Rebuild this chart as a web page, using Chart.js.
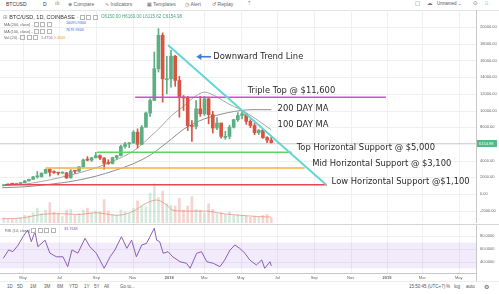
<!DOCTYPE html>
<html>
<head>
<meta charset="utf-8">
<title>BTC/USD, 1D, COINBASE</title>
<script src="https://cdn.jsdelivr.net/npm/chart.js@4.4.1/dist/chart.umd.min.js"></script>
<style>
  html, body { margin:0; padding:0; background:#fff; }
  body { width:499px; height:294px; position:relative; overflow:hidden;
         font-family:"Liberation Sans", Arial, sans-serif; color:#555; }
  .t { position:absolute; white-space:nowrap; line-height:1; }
  .g { font-family:"DejaVu Sans", sans-serif; }
  .rule { position:absolute; left:0; width:499px; height:1px; }
  .bx { display:inline-block; width:3px; height:3px; border:0.6px solid #b5b5b5; margin-right:1.5px; vertical-align:middle; }
  #pricePane { position:absolute; left:0; top:10px; }
  #rsiPane { position:absolute; left:0; top:225px; }
</style>
</head>
<body>

<!-- top toolbar -->
<div class="t" style="left:6px;top:1.5px;font-size:5px;color:#333">BTCUSD</div>
<div class="t" style="left:43px;top:1.5px;font-size:5px;color:#333">D</div>
<div class="t g" style="left:55px;top:1px;font-size:5.5px;color:#777">ılı</div>
<div class="t" style="left:68px;top:1.5px;font-size:5px;color:#666"><span class="g">⊕</span> Compare</div>
<div class="t" style="left:105px;top:1.5px;font-size:5px;color:#666"><span class="g">∿</span> Indicators</div>
<div class="t" style="left:147px;top:1.5px;font-size:5px;color:#666"><span class="g">▦</span> Templates</div>
<div class="t" style="left:185px;top:1.5px;font-size:5px;color:#666"><span class="g">◷</span> Alert</div>
<div class="t" style="left:212px;top:1.5px;font-size:5px;color:#666"><span class="g">↺</span> Replay</div>
<div class="t g" style="left:247px;top:1px;font-size:5.5px;color:#888">⇡</div>
<div class="t g" style="left:415px;top:1px;font-size:5.5px;color:#777">□</div>
<div class="t g" style="left:427px;top:1px;font-size:5.5px;color:#777">☁</div>
<div class="t" style="left:437px;top:1.5px;font-size:4.5px;color:#555">Unnamed <span class="g">⌄</span></div>
<div class="t g" style="left:473px;top:1px;font-size:5.5px;color:#777">⊙</div>
<div class="t g" style="left:485px;top:1px;font-size:5.5px;color:#777">⁝⁝</div>
<div class="rule" style="top:10px;background:#e4e4e4"></div>

<!-- price pane -->
<div id="pricePane"><canvas id="price" width="499" height="213"></canvas></div>

<!-- symbol header and indicator legend -->
<div class="t" style="left:3px;top:14.5px;font-size:5.5px;color:#333"><span class="g" style="color:#999">⊞</span> BTC/USD, 1D, COINBASE <span style="color:#999">-</span> <span class="bx"></span><span class="bx"></span><span class="bx"></span></div>
<div class="t" id="ohlc" style="left:101px;top:15px;font-size:4.5px;color:#4aa37a"></div>
<div class="t" style="left:4px;top:22px;font-size:3.8px;color:#666">MA (200, close) <span style="color:#999">-</span> <span class="bx"></span><span class="bx"></span><span class="bx"></span></div>
<div class="t" id="ma200Val" style="left:66px;top:22px;font-size:3.8px;color:#3e6fd8"></div>
<div class="t" style="left:4px;top:28.7px;font-size:3.8px;color:#666">MA (100, close) <span style="color:#999">-</span> <span class="bx"></span><span class="bx"></span><span class="bx"></span></div>
<div class="t" id="ma100Val" style="left:66px;top:28.7px;font-size:3.8px;color:#3e6fd8"></div>
<div class="t" style="left:4px;top:35.3px;font-size:3.8px;color:#666">Vol (20) <span style="color:#999">-</span> <span class="bx"></span><span class="bx"></span><span class="bx"></span> <span style="color:#8e5cb8">1.4756</span> <span style="color:#f0a030">0.4006</span></div>

<div class="rule" style="top:224px;background:#d6d6d6"></div>

<!-- RSI pane -->
<div id="rsiPane"><canvas id="rsi" width="499" height="56"></canvas></div>
<div class="t" style="left:5px;top:227.5px;font-size:3.8px;color:#666">RSI (14, close) <span class="bx"></span><span class="bx"></span><span class="bx"></span><span class="bx"></span></div>
<div class="t" id="rsiVal" style="left:64px;top:227.5px;font-size:3.8px;color:#8e5cb8"></div>

<!-- bottom toolbar -->
<div class="rule" style="top:281px;background:#ececec"></div>
<div class="t" style="left:7px;top:284.5px;font-size:4.5px;color:#555">1D</div>
<div class="t" style="left:17px;top:284.5px;font-size:4.5px;color:#555">5D</div>
<div class="t" style="left:30px;top:284.5px;font-size:4.5px;color:#555">1M</div>
<div class="t" style="left:44px;top:284.5px;font-size:4.5px;color:#555">3M</div>
<div class="t" style="left:57px;top:284.5px;font-size:4.5px;color:#555">6M</div>
<div class="t" style="left:69px;top:284.5px;font-size:4.5px;color:#555">YTD</div>
<div class="t" style="left:84px;top:284.5px;font-size:4.5px;color:#555">1Y</div>
<div class="t" style="left:94px;top:284.5px;font-size:4.5px;color:#555">5Y</div>
<div class="t" style="left:104px;top:284.5px;font-size:4.5px;color:#555">All</div>
<div class="t" style="left:120px;top:284.5px;font-size:4.5px;color:#555">Go to...</div>
<div class="t" style="left:409px;top:284.5px;font-size:4.5px;color:#555">15:50:45 (UTC+7)</div>
<div class="t" style="left:446px;top:284.5px;font-size:4.5px;color:#555">%</div>
<div class="t" style="left:454px;top:284.5px;font-size:4.5px;color:#555">log</div>
<div class="t" style="left:466px;top:284.5px;font-size:4.5px;color:#555">auto</div>
<div class="t g" style="left:484px;top:283.5px;font-size:6px;color:#555">⚙</div>

<script>
// ---- weekly BTC/USD candles (week start dates) ----
const weeks = ['2017-03-27','2017-04-03','2017-04-10','2017-04-17','2017-04-24','2017-05-01','2017-05-08','2017-05-15','2017-05-22','2017-05-29',
  '2017-06-05','2017-06-12','2017-06-19','2017-06-26','2017-07-03','2017-07-10','2017-07-17','2017-07-24','2017-07-31','2017-08-07',
  '2017-08-14','2017-08-21','2017-08-28','2017-09-04','2017-09-11','2017-09-18','2017-09-25','2017-10-02','2017-10-09','2017-10-16',
  '2017-10-23','2017-10-30','2017-11-06','2017-11-13','2017-11-20','2017-11-27','2017-12-04','2017-12-11','2017-12-18','2017-12-25',
  '2018-01-01','2018-01-08','2018-01-15','2018-01-22','2018-01-29','2018-02-05','2018-02-12','2018-02-19','2018-02-26','2018-03-05',
  '2018-03-12','2018-03-19','2018-03-26','2018-04-02','2018-04-09','2018-04-16','2018-04-23','2018-04-30','2018-05-07','2018-05-14',
  '2018-05-21','2018-05-28','2018-06-04','2018-06-11','2018-06-18'];
const firstOpen = 1000;
const closes = [1080,1180,1170,1250,1350, 1560,1760,2050,2060,2500, 2950,2600,2570,2500,2520, 1930,2750,2730,3250,4080,
  4050,4350,4600,4300,3680, 3650,4350,4600,5700,6000, 6100,7400,5950,8000,9700, 11200,15000,19000,13800,13800,
  16500,13600,11600,11500,8200, 8100,10200,9600,11400,9500, 7900,8500,6900,6900,8000, 8900,9400,9600,8700,8200,
  7350,7650,6750,6450,6154.98];
const highs = [1110,1210,1200,1260,1360, 1620,1780,2120,2700,2530, 2980,3000,2780,2600,2660, 2600,2930,2800,3280,4200,
  4480,4400,4980,4700,4350, 4100,4410,4620,5860,6200, 6180,7600,7800,8200,9800, 11400,17000,19800,19300,16500,
  17200,16600,14100,11800,11700, 8800,11200,11700,11700,11600, 9900,9150,8500,7500,8250, 8950,9750,9990,9650,8900,
  8500,7700,7750,6880,6830];
const lows = [960,1060,1150,1160,1240, 1340,1560,1740,1900,2050, 2460,2150,2460,2290,2480, 1850,1900,2450,2660,3220,
  3960,3900,4300,4100,2980, 3550,3600,4150,4550,5500, 5550,6100,5500,5900,8000, 9300,11200,14600,11000,12000,
  12800,12900,9200,10000,7600, 6300,7800,9300,9400,8400, 7300,7700,6700,6550,6600, 7900,8700,9000,8350,7950,
  7100,7100,6650,6150,6100];
const volumes = [12,10,9,10,13,18,17,24,35,22, 30,48,25,22,16,30,32,18,22,30, 35,24,28,26,55,28,20,18,30,26,
  22,35,52,40,38,70,92,60,75,45, 42,40,58,30,40,62,32,30,24,45, 32,22,24,20,26,18,20,18,16,14, 16,14,18,20,12];

// last daily bar shown in the header
const lastDayOHLC = [6150.00, 6160.00, 6115.62, 6154.98];

// ---- moving averages ----
const maDates = ['2017-03-27','2017-05-01','2017-06-01','2017-07-01','2017-08-01','2017-09-01','2017-10-01','2017-11-01','2017-12-01','2017-12-20',
  '2018-01-05','2018-01-24','2018-02-10','2018-03-01','2018-03-20','2018-04-10','2018-05-01','2018-05-20','2018-06-21'];
const ma100 = [1000,1150,1500,1950,2500,3150,4000,5100,6900,8200, 9400,10450,11500,12200,11700,10800,10100,9300,7679.93];
const ma200 = [750,850,1050,1300,1650,2150,2800,3600,4700,5700, 6600,7700,8400,9000,9400,9750,10000,10100,10095.93];

// volume moving average
const volMaDates = ['2017-03-27','2017-05-01','2017-05-31','2017-07-01','2017-08-01','2017-09-01','2017-10-05','2017-11-01','2017-11-24',
  '2017-12-11','2017-12-28','2018-01-07','2018-02-01','2018-03-03','2018-04-01','2018-05-01','2018-05-31','2018-06-21'];
const volMa = [10,12,20,22,20,24,18,27,47, 54,42,30,28,28,22,18,15,14];

// ---- RSI (14) ----
const rsiDates = ['2017-03-29','2017-04-07','2017-04-14','2017-04-23','2017-05-01','2017-05-09','2017-05-15','2017-05-21','2017-05-26','2017-06-07',
  '2017-06-15','2017-06-26','2017-07-07','2017-07-15','2017-07-22','2017-08-01','2017-08-13','2017-08-21','2017-09-01','2017-09-14',
  '2017-09-24','2017-10-02','2017-10-13','2017-10-22','2017-10-30','2017-11-07','2017-11-16','2017-11-24','2017-12-07','2017-12-11',
  '2017-12-16','2017-12-22','2017-12-30','2018-01-07','2018-01-19','2018-01-30','2018-02-05','2018-02-16','2018-02-24','2018-03-05',
  '2018-03-16','2018-03-27','2018-04-04','2018-04-13','2018-04-21','2018-04-29','2018-05-08','2018-05-16','2018-05-27','2018-06-05',
  '2018-06-10','2018-06-19','2018-06-21'];
const rsiValues = [45.6,58.6,56,66.4,79.4,89.8,71.6,87,63.8,74, 53.8,48,48,32.5,58.6,53.8,76.9,63.8,53.4,30,
  48,58.6,79.4,61.2,74,48,66.4,69,92.5,74, 71.6,53.4,56,48,40.3,37.8,30,53.4,56,40.3,
  37.8,32.5,43,58.6,66.4,61.2,53.4,43,35.2,43, 30,40.3,33.7648];

// ---- drawn support / resistance levels ----
const levelValues = [11600, 5000, 3100, 1100];
const levelStarts = ['2017-11-05','2017-09-02','2017-06-08','2017-04-01'];
const levelEnds   = ['2018-12-30','2018-07-25','2018-08-16','2018-09-22'];
const levelColors = ['#dd44dd','#5fd35f','#f2b13c','#e04a56'];
const trendDates  = ['2017-12-30','2018-09-21'];
const trendValues = [17850, 1100];

// ---- axis ticks ----
const monthDates  = ['2017-05-01','2017-07-01','2017-09-01','2017-11-01','2018-01-01','2018-03-01','2018-05-01',
  '2018-07-01','2018-09-01','2018-11-01','2019-01-01','2019-03-01','2019-05-01'];
const monthLabels = ['May','Jul','Sep','Nov','2018','Mar','May','Jul','Sep','Nov','2019','Mar','May'];
const priceTicks  = [-2000,0,2000,4000,6000,8000,10000,12000,14000,16000,18000,20000];
const rsiTicks    = [40,60,80];

// ---- helpers ----
const DAY0 = Date.UTC(2017, 4, 1);
const dayOf = s => (Date.parse(s + 'T00:00:00Z') - DAY0) / 864e5;
const X_MIN = -38.5, X_MAX = 759;
const UP = '#5cae83', DOWN = '#d75442';
const UP_V = 'rgba(92,174,131,0.26)', DOWN_V = 'rgba(215,84,66,0.26)';
const FONT = '"Liberation Sans", Arial, sans-serif';
const GRID = '#f0f0f0', AXIS = '#c8c8c8', LABEL = '#666';

const opens = closes.map((c, i) => i ? closes[i - 1] : firstOpen);
const candleX = weeks.map(d => dayOf(d) + 3);
const candleColors = closes.map((c, i) => c >= opens[i] ? UP : DOWN);
const volColors = closes.map((c, i) => c >= opens[i] ? UP_V : DOWN_V);
const monthTicks = monthDates.map(dayOf);

document.getElementById('ohlc').textContent =
  'O' + lastDayOHLC[0].toFixed(2) + ' H' + lastDayOHLC[1].toFixed(2) + ' L' + lastDayOHLC[2].toFixed(2) + ' C' + lastDayOHLC[3].toFixed(2);
document.getElementById('ma200Val').textContent = ma200[ma200.length - 1].toFixed(4);
document.getElementById('ma100Val').textContent = ma100[ma100.length - 1].toFixed(4);
document.getElementById('rsiVal').textContent = rsiValues[rsiValues.length - 1].toFixed(4);

const pts = (dates, vals) => dates.map((d, i) => ({ x: dayOf(d), y: vals[i] }));
const lineDs = (data, color, width, order, extra) => Object.assign({
  type: 'line', data, borderColor: color, borderWidth: width, pointRadius: 0, fill: false, order
}, extra || {});

// grid lines, axis border and tick labels, drawn against the chart's own scales
function paneAxes(yTicks, fmt, withTimeLabels) {
  return {
    id: 'paneAxes',
    beforeDatasetsDraw(chart) {
      const { ctx, chartArea: a, scales: { x, y } } = chart;
      ctx.save();
      ctx.strokeStyle = GRID; ctx.lineWidth = 1;
      monthTicks.forEach(v => {
        const px = Math.round(x.getPixelForValue(v)) + 0.5;
        ctx.beginPath(); ctx.moveTo(px, a.top); ctx.lineTo(px, a.bottom); ctx.stroke();
      });
      yTicks.forEach(v => {
        const py = Math.round(y.getPixelForValue(v)) + 0.5;
        ctx.beginPath(); ctx.moveTo(a.left, py); ctx.lineTo(a.right, py); ctx.stroke();
      });
      ctx.restore();
    },
    afterDraw(chart) {
      const { ctx, chartArea: a, scales: { x, y } } = chart;
      ctx.save();
      ctx.strokeStyle = AXIS; ctx.lineWidth = 1;
      ctx.beginPath(); ctx.moveTo(a.right + 0.5, 0); ctx.lineTo(a.right + 0.5, chart.height); ctx.stroke();
      ctx.font = '4px ' + FONT; ctx.fillStyle = LABEL;
      ctx.textAlign = 'left'; ctx.textBaseline = 'middle';
      yTicks.forEach(v => ctx.fillText(fmt(v), a.right + 4, y.getPixelForValue(v)));
      if (withTimeLabels) {
        ctx.beginPath(); ctx.moveTo(a.left, a.bottom + 0.5); ctx.lineTo(a.right, a.bottom + 0.5); ctx.stroke();
        ctx.textAlign = 'center';
        monthTicks.forEach((v, i) => {
          ctx.font = (/^\d{4}$/.test(monthLabels[i]) ? 'bold ' : '') + '4px ' + FONT;
          ctx.fillText(monthLabels[i], x.getPixelForValue(v), a.bottom + 4.5);
        });
      }
      ctx.restore();
    }
  };
}

// chart annotations (text placed in data coordinates)
const notes = [
  { text: 'Downward Trend Line',             day: 318.8, value: 16440 },
  { text: 'Triple Top @ $11,600',            day: 376.4, value: 12335 },
  { text: '200 DAY MA',                      day: 426.6, value: 10144 },
  { text: '100 DAY MA',                      day: 426.6, value: 8263 },
  { text: 'Top Horizontal Support @ $5,000', day: 458.5, value: 5473 },
  { text: 'Mid Horizontal Support @ $3,100', day: 484.6, value: 3593 },
  { text: 'Low Horizontal Support @$1,100',  day: 517.1, value: 1473 }
];
const arrowSpan = { fromDay: 315, toDay: 290.5, value: 16440 };

const priceOverlay = {
  id: 'priceOverlay',
  afterDatasetsDraw(chart) {
    const { ctx, chartArea: a, scales: { x, y } } = chart;
    const last = lastDayOHLC[3];
    const py = Math.round(y.getPixelForValue(last)) + 0.5;
    ctx.save();
    ctx.strokeStyle = 'rgba(140,140,140,0.35)';
    ctx.lineWidth = 1;
    ctx.beginPath(); ctx.moveTo(a.left, py); ctx.lineTo(a.right, py); ctx.stroke();
    ctx.font = '8.4px "DejaVu Sans", sans-serif';
    ctx.fillStyle = '#2a2a2a';
    ctx.textAlign = 'left';
    ctx.textBaseline = 'middle';
    notes.forEach(n => ctx.fillText(n.text, x.getPixelForValue(n.day), y.getPixelForValue(n.value)));
    const ax1 = x.getPixelForValue(arrowSpan.fromDay), ax2 = x.getPixelForValue(arrowSpan.toDay);
    const ay = y.getPixelForValue(arrowSpan.value);
    ctx.strokeStyle = '#3d7bd4'; ctx.fillStyle = '#3d7bd4'; ctx.lineWidth = 1.6;
    ctx.beginPath(); ctx.moveTo(ax1, ay); ctx.lineTo(ax2 + 3, ay); ctx.stroke();
    ctx.beginPath(); ctx.moveTo(ax2, ay); ctx.lineTo(ax2 + 5, ay - 3.2); ctx.lineTo(ax2 + 5, ay + 3.2); ctx.closePath(); ctx.fill();
    ctx.restore();
  },
  afterDraw(chart) {
    const { ctx, chartArea: a, scales: { y } } = chart;
    const last = lastDayOHLC[3];
    const py = Math.round(y.getPixelForValue(last)) + 0.5;
    ctx.save();
    ctx.fillStyle = '#53b987';
    ctx.fillRect(a.right + 1, py - 3.5, 20, 7);
    ctx.fillStyle = '#fff';
    ctx.font = '4px ' + FONT;
    ctx.textBaseline = 'middle';
    ctx.fillText(last.toFixed(2), a.right + 3, py);
    ctx.restore();
  }
};

const datasets = [
  { type: 'bar', yAxisID: 'yv', order: 10, grouped: false, barThickness: 2,
    data: volumes.map((v, i) => ({ x: candleX[i], y: v })), backgroundColor: volColors },
  lineDs(pts(volMaDates, volMa), 'rgba(232,120,90,0.6)', 1, 9, { yAxisID: 'yv', cubicInterpolationMode: 'monotone' }),
  lineDs(pts(maDates, ma200), '#8e8e8e', 1, 6, { cubicInterpolationMode: 'monotone' }),
  lineDs(pts(maDates, ma100), '#a6a6a6', 1, 6, { cubicInterpolationMode: 'monotone' }),
  { type: 'bar', order: 5, grouped: false, barThickness: 1,
    data: lows.map((l, i) => ({ x: candleX[i], y: [l, highs[i]] })), backgroundColor: candleColors },
  { type: 'bar', order: 4, grouped: false, barThickness: 3, minBarLength: 1,
    data: closes.map((c, i) => ({ x: candleX[i], y: [opens[i], c] })), backgroundColor: candleColors }
];
levelValues.forEach((v, i) => {
  datasets.push(lineDs([{ x: dayOf(levelStarts[i]), y: v }, { x: dayOf(levelEnds[i]), y: v }], levelColors[i], 1.5, 2));
});
datasets.push(lineDs(pts(trendDates, trendValues), '#62d6d8', 2, 1));

const hidden = { display: false };

new Chart(document.getElementById('price'), {
  type: 'bar',
  data: { datasets },
  options: {
    responsive: false, animation: false, events: [],
    layout: { padding: { left: 0, top: 0, bottom: 0, right: 23 } },
    plugins: { legend: hidden, tooltip: { enabled: false } },
    scales: {
      x: { type: 'linear', min: X_MIN, max: X_MAX, offset: false, display: false },
      y: { min: -3473, max: 22036, display: false },
      yv: { min: 0, max: 500, display: false }
    }
  },
  plugins: [paneAxes(priceTicks, v => v.toFixed(2), false), priceOverlay]
});

const rsiBand = {
  id: 'rsiBand',
  beforeDatasetsDraw(chart) {
    const { ctx, chartArea: a, scales: { y } } = chart;
    const t = y.getPixelForValue(70), b = y.getPixelForValue(30);
    ctx.save();
    ctx.fillStyle = 'rgba(160,110,225,0.14)';
    ctx.fillRect(a.left, t, a.right - a.left, b - t);
    ctx.restore();
  }
};

new Chart(document.getElementById('rsi'), {
  type: 'line',
  data: { datasets: [ lineDs(pts(rsiDates, rsiValues), '#8d5cb8', 1, 1) ] },
  options: {
    responsive: false, animation: false, events: [],
    layout: { padding: { left: 0, top: 0, bottom: 8, right: 23 } },
    plugins: { legend: hidden, tooltip: { enabled: false } },
    scales: {
      x: { type: 'linear', min: X_MIN, max: X_MAX, display: false },
      y: { min: 22.66, max: 97.66, display: false }
    }
  },
  plugins: [paneAxes(rsiTicks, v => v.toFixed(4), true), rsiBand]
});
</script>
</body>
</html>
